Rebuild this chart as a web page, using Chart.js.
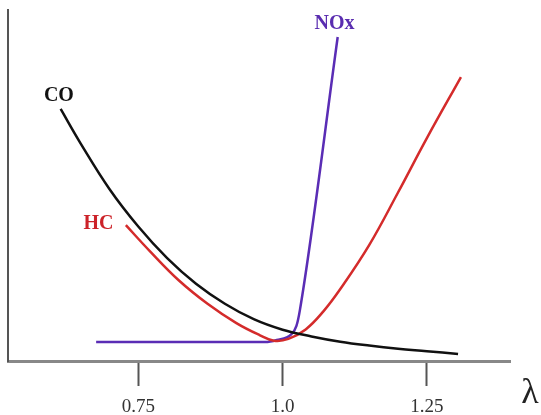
<!DOCTYPE html>
<html>
<head>
<meta charset="utf-8">
<script src="https://cdn.jsdelivr.net/npm/chart.js@4"></script>
<style>
  html, body { margin: 0; padding: 0; background: #fff; }
  #wrap { width: 541px; height: 415px; }
</style>
</head>
<body>
<div id="wrap"><canvas id="emissions"></canvas></div>
<script>
// lambda (air ratio) and relative emission level
const coLambda = [0.6155, 0.65, 0.70, 0.75, 0.80, 0.85, 0.90, 0.95, 1.00, 1.05, 1.10, 1.15, 1.20, 1.25, 1.304];
const coValues = [71.8, 62.0, 49.0, 38.3, 29.3, 22.0, 16.3, 11.9, 8.9, 7.0, 5.5, 4.4, 3.5, 2.8, 2.0];

const hcLambda = [0.7285, 0.77, 0.82, 0.87, 0.92, 0.96, 0.985, 1.01, 1.04, 1.07, 1.10, 1.15, 1.20, 1.25, 1.309];
const hcValues = [38.7, 31.3, 23.0, 16.3, 10.8, 7.4, 5.8, 6.3, 9.0, 14.0, 20.5, 33.0, 48.0, 63.5, 80.9];

const noxLambda = [0.677, 0.97, 0.99, 1.015, 1.024, 1.03, 1.0955];
const noxValues = [5.4, 5.4, 6.0, 7.6, 10.0, 14.5, 92.3];

const xTicks = [0.75, 1.0, 1.25];
const xTickLabels = ['0.75', '1.0', '1.25'];

const curveLabels = [
    { text: 'CO', x: 0.6125, y: 75.5, color: '#111111' },
    { text: 'HC', x: 0.681, y: 39.2, color: '#cc2229' },
    { text: 'NOx', x: 1.09, y: 96.2, color: '#5a2db0' }
];

const toPoints = (xs, ys) => xs.map((x, i) => ({ x: x, y: ys[i] }));

const labelPlugin = {
    id: 'curveLabels',
    afterDatasetsDraw(chart) {
        const { ctx, scales } = chart;
        ctx.save();
        ctx.textAlign = 'center';
        ctx.textBaseline = 'middle';
        ctx.font = 'bold 20px "Liberation Serif", serif';
        curveLabels.forEach(l => {
            ctx.fillStyle = l.color;
            ctx.fillText(l.text, scales.x.getPixelForValue(l.x), scales.y.getPixelForValue(l.y));
        });
        // axis name
        ctx.fillStyle = '#222';
        ctx.font = '36px "Liberation Serif", serif';
        ctx.fillText('λ', scales.x.right + 20, scales.y.bottom + 33);
        ctx.restore();
    }
};

const lineStyle = { borderWidth: 2.5, pointRadius: 0, fill: false, tension: 0.4 };

new Chart(document.getElementById('emissions'), {
    type: 'line',
    data: {
        datasets: [
            { label: 'CO', data: toPoints(coLambda, coValues), borderColor: '#111111', ...lineStyle },
            { label: 'HC', data: toPoints(hcLambda, hcValues), borderColor: '#d42b2b', ...lineStyle },
            { label: 'NOx', data: toPoints(noxLambda, noxValues), borderColor: '#5a2db5', ...lineStyle, cubicInterpolationMode: 'monotone' }
        ]
    },
    options: {
        responsive: true,
        maintainAspectRatio: false,
        animation: false,
        layout: { padding: { left: 8, right: 31, top: 10, bottom: 0 } },
        plugins: { legend: { display: false }, tooltip: { enabled: false } },
        scales: {
            x: {
                type: 'linear',
                min: 0.5243,
                max: 1.394,
                afterBuildTicks: axis => { axis.ticks = xTicks.map(v => ({ value: v })); },
                afterFit: axis => { axis.height = 54; },
                grid: { drawOnChartArea: false, drawTicks: true, tickLength: 25, tickWidth: 2, tickColor: '#555', color: '#555' },
                border: { display: true, color: '#888', width: 3 },
                ticks: {
                    autoSkip: false,
                    maxRotation: 0,
                    padding: 10,
                    color: '#333',
                    font: { family: '"Liberation Serif", serif', size: 19 },
                    callback: v => xTickLabels[xTicks.indexOf(v)] ?? ''
                }
            },
            y: {
                type: 'linear',
                min: 0,
                max: 100,
                grid: { display: false, drawTicks: false },
                border: { display: true, color: '#555', width: 2 },
                ticks: { display: false }
            }
        }
    },
    plugins: [labelPlugin]
});
</script>
</body>
</html>
